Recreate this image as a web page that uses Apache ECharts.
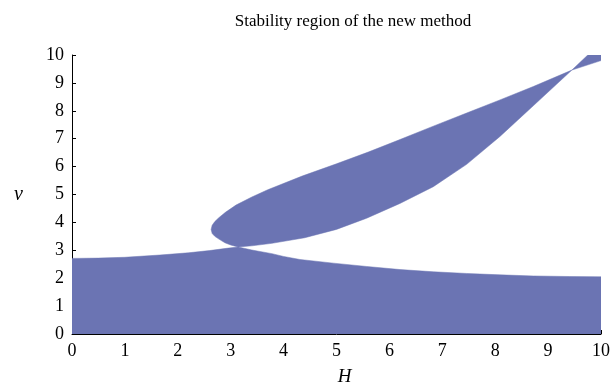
<!DOCTYPE html>
<html>
<head>
<meta charset="utf-8">
<script src="https://cdn.jsdelivr.net/npm/echarts@6/dist/echarts.min.js"></script>
<style>
  html, body { margin: 0; padding: 0; background: #fff; }
  #chart { width: 613px; height: 391px; }
</style>
</head>
<body>
<div id="chart"></div>
<script>
// lower band: from v=0 up to this boundary
var bandH = [0, 0.5, 1, 1.66, 2.2, 2.6, 2.92, 3.14, 3.4, 3.78, 4.0, 4.31, 4.94, 5.57, 6.2, 6.83, 7.46, 8.09, 8.72, 9.4, 10];
var bandV = [2.71, 2.72, 2.75, 2.83, 2.91, 2.99, 3.07, 3.12, 3.01, 2.88, 2.78, 2.67, 2.54, 2.42, 2.31, 2.23, 2.17, 2.12, 2.08, 2.06, 2.05];

// lens: upper edge from the tip to the right side
var lensTopH = [2.63, 2.65, 2.7, 2.77, 2.9, 3.1, 3.4, 3.7, 4.35, 5.0, 5.6, 6.2, 6.83, 7.46, 8.09, 8.72, 9.45, 10];
var lensTopV = [3.75, 3.9, 4.03, 4.16, 4.36, 4.62, 4.91, 5.17, 5.66, 6.1, 6.52, 6.97, 7.45, 7.92, 8.39, 8.87, 9.46, 9.8];
// lens: lower edge from the tip to the right side
var lensLowH = [2.63, 2.65, 2.7, 2.77, 2.89, 3.0, 3.14, 3.4, 3.78, 4.4, 5.0, 5.57, 6.2, 6.83, 7.46, 8.09, 8.72, 9.45, 9.75, 10];
var lensLowV = [3.75, 3.6, 3.5, 3.41, 3.27, 3.19, 3.12, 3.16, 3.25, 3.45, 3.75, 4.15, 4.68, 5.28, 6.08, 7.08, 8.18, 9.46, 10, 10];

var xTicks = [0, 1, 2, 3, 4, 5, 6, 7, 8, 9, 10];
var yTicks = [0, 1, 2, 3, 4, 5, 6, 7, 8, 9, 10];

var fillColor = '#6b74b3';
var serif = '"Liberation Serif", "DejaVu Serif", serif';

function toPairs(hs, vs) {
    var out = [];
    for (var i = 0; i < hs.length; i++) out.push([hs[i], vs[i]]);
    return out;
}

// band polygon: boundary plus the bottom corners
var bandPoly = toPairs(bandH, bandV);
bandPoly.push([10, 0]);
bandPoly.push([0, 0]);

// lens polygon: top edge forward, low edge backward
var lensPoly = toPairs(lensTopH, lensTopV);
var low = toPairs(lensLowH, lensLowV);
for (var j = low.length - 1; j > 0; j--) lensPoly.push(low[j]);

function polySeries(name, poly) {
    return {
        name: name,
        type: 'custom',
        coordinateSystem: 'cartesian2d',
        silent: true,
        data: [0],
        clip: true,
        renderItem: function (params, api) {
            var pts = poly.map(function (p) { return api.coord(p); });
            return {
                type: 'polygon',
                shape: { points: pts },
                style: { fill: fillColor, stroke: fillColor, lineWidth: 0.5 }
            };
        }
    };
}

var myChart = echarts.init(document.getElementById('chart'));
var option = {
    animation: false,
    title: {
        text: 'Stability region of the new method',
        left: 348,
        textAlign: 'center',
        top: 8,
        textStyle: { fontFamily: serif, fontSize: 17, fontWeight: 'normal', color: '#000' }
    },
    grid: { left: 72, right: 12, top: 55, bottom: 56 },
    xAxis: {
        type: 'value',
        min: 0, max: 10, interval: 1,
        name: 'H',
        nameLocation: 'middle',
        nameGap: 33,
        nameTextStyle: { fontFamily: serif, fontSize: 19, fontStyle: 'italic', color: '#000', padding: [0, 0, 0, 16] },
        axisLine: { show: true, lineStyle: { color: '#000', width: 1 } },
        axisTick: { show: true, inside: true, length: 4, lineStyle: { color: '#000' } },
        axisLabel: { fontFamily: serif, fontSize: 18, color: '#000', margin: 8,
            formatter: function (v) { return xTicks.indexOf(v) >= 0 ? String(v) : ''; } },
        splitLine: { show: false }
    },
    yAxis: {
        type: 'value',
        min: 0, max: 10, interval: 1,
        name: 'v',
        nameLocation: 'middle',
        nameRotate: 0,
        nameGap: 49,
        nameTextStyle: { fontFamily: serif, fontSize: 20, fontStyle: 'italic', color: '#000', padding: [0, 0, 14, 0] },
        axisLine: { show: true, lineStyle: { color: '#000', width: 1 } },
        axisTick: { show: true, inside: true, length: 4, lineStyle: { color: '#000' } },
        axisLabel: { fontFamily: serif, fontSize: 18, color: '#000', margin: 8,
            formatter: function (v) { return yTicks.indexOf(v) >= 0 ? String(v) : ''; } },
        splitLine: { show: false }
    },
    series: [
        polySeries('band', bandPoly),
        polySeries('lens', lensPoly)
    ]
};
myChart.setOption(option);
</script>
</body>
</html>
